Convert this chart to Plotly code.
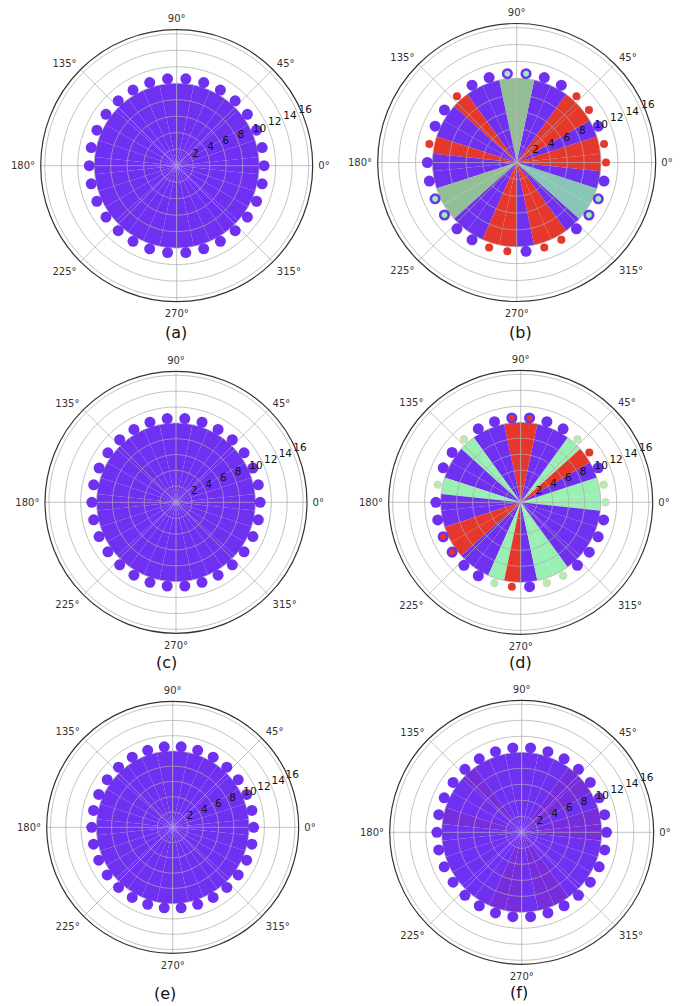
import plotly.graph_objects as go

W, H = 683, 1006

# Sector centres (degrees), one bar and one dot per sector
ANGLES = [0, 12, 24, 36, 48, 60, 72, 84, 96, 108, 120, 132, 144, 156, 168,
          180, 192, 204, 216, 228, 240, 252, 264, 276, 288, 300, 312, 324, 336, 348]
BAR_WIDTH = 12

# Bar lengths and dot radii per panel
BAR_R = [10, 10, 10, 10, 10, 10, 10, 10, 10, 10, 10, 10, 10, 10, 10,
         10, 10, 10, 10, 10, 10, 10, 10, 10, 10, 10, 10, 10, 10, 10]
DOT_R = [10.6, 10.6, 10.6, 10.6, 10.6, 10.6, 10.6, 10.6, 10.6, 10.6,
         10.6, 10.6, 10.6, 10.6, 10.6, 10.6, 10.6, 10.6, 10.6, 10.6,
         10.6, 10.6, 10.6, 10.6, 10.6, 10.6, 10.6, 10.6, 10.6, 10.6]

# Sector states per panel: p = purple, r = red, g/t = greens, m = muted purple
STATE_A = list("pppppppppppppppppppppppppppppp")
STATE_B = list("rrprrppggpprpprppggpprrprrpttp")
STATE_C = list("pppppppppppppppppppppppppppppp")
STATE_D = list("ggprgpprrppgppgpprrppgrpggpppp")
STATE_E = list("pppppppppppppppppppppppppppppp")
STATE_F = list("mmpmmppppppmppmppppppmmpmmpppp")

# Dot styles per panel: P = purple dot, R = small red dot, G = small green dot,
# O = green dot with purple ring, Q = red dot with purple ring
DOTS_A = list("PPPPPPPPPPPPPPPPPPPPPPPPPPPPPP")
DOTS_B = list("RRPRRPPOOPPRPPRPPOOPPRRPRRPOOP")
DOTS_C = list("PPPPPPPPPPPPPPPPPPPPPPPPPPPPPP")
DOTS_D = list("GGPRGPPQQPPGPPGPPQQPPGRPGGPPPP")
DOTS_E = list("PPPPPPPPPPPPPPPPPPPPPPPPPPPPPP")
DOTS_F = list("PPPPPPPPPPPPPPPPPPPPPPPPPPPPPP")

PANEL_LABELS = ["(a)", "(b)", "(c)", "(d)", "(e)", "(f)"]
ANG_TICKS = [0, 45, 90, 135, 180, 225, 270, 315]
ANG_TEXT = ["0°", "45°", "90°", "135°", "180°", "225°", "270°", "315°"]
RAD_TICKS = [2, 4, 6, 8, 10, 12, 14, 16]
RAD_TEXT = ["2", "4", "6", "8", "10", "12", "14", "16"]
RAD_LABEL_ANGLE = 22.5
R_MAX = 16.5

PURPLE = "#7030F2"
BAR_COLORS = {
    "p": PURPLE,
    "r": "#E5372B",
    "g": "#93BF97",
    "t": "#88C6B6",
    "m": "#772DDC",
}
BAR_COLORS_D = dict(BAR_COLORS, g="#9AF0B2")

DOT_STYLE = {
    "P": dict(color=PURPLE, size=11, line=dict(width=0, color=PURPLE)),
    "R": dict(color="#E5372B", size=8, line=dict(width=0, color="#E5372B")),
    "G": dict(color="#A6F2BA", size=7.5, line=dict(width=1, color="#E8CDB0")),
    "O": dict(color="#8EF5B4", size=8.5, line=dict(width=2.6, color=PURPLE)),
    "Q": dict(color="#E5372B", size=8.5, line=dict(width=2.6, color=PURPLE)),
}

# (centre x, centre y, outer radius) in pixels for every panel
GEOM = [
    (176.7, 165.7, 136),
    (516.7, 162.5, 139),
    (176.0, 502.3, 131),
    (520.7, 502.3, 132),
    (172.7, 827.3, 126),
    (521.7, 832.3, 132),
]
LABEL_POS = [(176, 332), (520, 332), (166, 662), (520, 662), (165, 993), (519, 992)]

PANELS = [
    (STATE_A, DOTS_A, BAR_COLORS),
    (STATE_B, DOTS_B, BAR_COLORS),
    (STATE_C, DOTS_C, BAR_COLORS),
    (STATE_D, DOTS_D, BAR_COLORS_D),
    (STATE_E, DOTS_E, BAR_COLORS),
    (STATE_F, DOTS_F, BAR_COLORS),
]

GRID_COLOR = "rgba(172,172,172,0.72)"
FONT = "DejaVu Sans"

fig = go.Figure()

# grid paths drawn as traces so they sit on top of the bars
circle_theta = [i * 2 for i in range(181)]
spoke_r, spoke_t = [], []
for a in ANG_TICKS:
    spoke_r += [0, R_MAX, None]
    spoke_t += [a, a, None]

for k, (states, dots, palette) in enumerate(PANELS):
    sub = "polar" if k == 0 else f"polar{k + 1}"
    fig.add_trace(go.Barpolar(
        r=BAR_R, theta=ANGLES, width=[BAR_WIDTH] * len(ANGLES),
        marker=dict(color=[palette[s] for s in states], line=dict(width=0)),
        subplot=sub, showlegend=False, hoverinfo="skip",
    ))
    for rr in RAD_TICKS:
        fig.add_trace(go.Scatterpolar(
            r=[rr] * len(circle_theta), theta=circle_theta, mode="lines",
            line=dict(color=GRID_COLOR, width=1), subplot=sub,
            showlegend=False, hoverinfo="skip",
        ))
    fig.add_trace(go.Scatterpolar(
        r=spoke_r, theta=spoke_t, mode="lines",
        line=dict(color=GRID_COLOR, width=1), subplot=sub,
        showlegend=False, hoverinfo="skip", connectgaps=False,
    ))
    for style in ["P", "R", "G", "O", "Q"]:
        idx = [i for i, d in enumerate(dots) if d == style]
        if not idx:
            continue
        fig.add_trace(go.Scatterpolar(
            r=[DOT_R[i] for i in idx], theta=[ANGLES[i] for i in idx],
            mode="markers", marker=DOT_STYLE[style], subplot=sub,
            showlegend=False, hoverinfo="skip",
        ))
    # radial tick labels, horizontal, along the 22.5° ray
    fig.add_trace(go.Scatterpolar(
        r=RAD_TICKS, theta=[RAD_LABEL_ANGLE] * len(RAD_TICKS),
        mode="text", text=RAD_TEXT, textposition="top right",
        textfont=dict(family=FONT, size=10.5, color="#111111"),
        subplot=sub, showlegend=False, hoverinfo="skip",
    ))

    cx, cy, R = GEOM[k]
    polar = dict(
        domain=dict(x=[(cx - R) / W, (cx + R) / W],
                    y=[1 - (cy + R) / H, 1 - (cy - R) / H]),
        bgcolor="white",
        radialaxis=dict(
            range=[0, R_MAX], tickvals=RAD_TICKS, showticklabels=False,
            showgrid=False, showline=False, ticks="",
        ),
        angularaxis=dict(
            tickvals=ANG_TICKS, ticktext=ANG_TEXT, direction="counterclockwise",
            rotation=0, showgrid=False, showline=True, linecolor="#333333",
            linewidth=1.2, ticks="outside", ticklen=3,
            tickcolor="rgba(0,0,0,0)",
            tickfont=dict(family=FONT, size=10, color="#333333"),
        ),
    )
    fig.update_layout(**{sub: polar})

    lx, ly = LABEL_POS[k]
    fig.add_annotation(
        x=lx / W, y=1 - ly / H, xref="paper", yref="paper",
        text=PANEL_LABELS[k], showarrow=False,
        font=dict(family=FONT, size=16, color="#111111"),
        xanchor="center", yanchor="middle",
    )

fig.update_layout(
    width=W, height=H, margin=dict(l=0, r=0, t=0, b=0),
    paper_bgcolor="white", plot_bgcolor="white",
)

fig.write_html("out.html")
